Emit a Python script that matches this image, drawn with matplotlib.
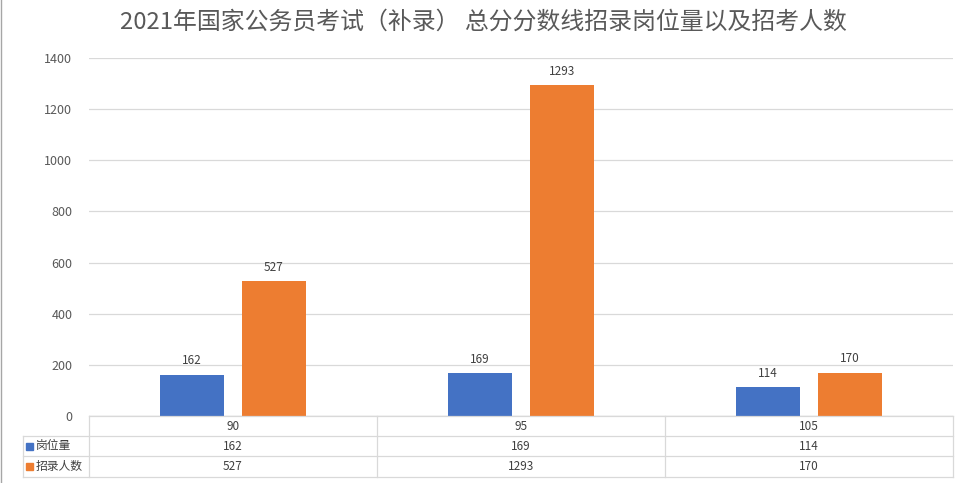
import matplotlib.pyplot as plt
from matplotlib.patches import Rectangle
from matplotlib.lines import Line2D

plt.rcParams['font.family'] = ['Noto Sans CJK SC', 'DejaVu Sans']

categories = ["90", "95", "105"]
series_names = ["岗位量", "招录人数"]
posts = [162, 169, 114]
applicants = [527, 1293, 170]
title = "2021年国家公务员考试（补录） 总分分数线招录岗位量以及招考人数"

BLUE = "#4472C4"
ORANGE = "#ED7D31"
GRID = "#d9d9d9"
TEXT = "#404040"

W, H = 968, 483
fig = plt.figure(figsize=(W / 100, H / 100), dpi=100)


def fx(px):
    return px / W


def fy(py):
    return 1 - py / H


# plot area in pixel coords
left, right, top, bottom = 89, 953, 58, 416
ax = fig.add_axes([fx(left), fy(bottom), fx(right - left), fy(top) - fy(bottom)])

x = list(range(len(categories)))
bw = 0.222
off = 0.142
b1 = ax.bar([i - off for i in x], posts, width=bw, color=BLUE, zorder=3)
b2 = ax.bar([i + off for i in x], applicants, width=bw, color=ORANGE, zorder=3)
for bars, vals in ((b1, posts), (b2, applicants)):
    for r, v in zip(bars, vals):
        ax.text(r.get_x() + r.get_width() / 2, v + 28, str(v), ha="center",
                va="bottom", fontsize=8.5, color=TEXT)

ax.set_xlim(-0.5, len(categories) - 0.5)
ax.set_ylim(0, 1400)
ax.set_yticks(range(0, 1401, 200))
ax.yaxis.grid(True, color=GRID, linewidth=0.9, zorder=0)
ax.tick_params(axis="y", length=0, labelsize=9, labelcolor="#595959", pad=12)
ax.set_xticks([])
for s in ax.spines.values():
    s.set_visible(False)
ax.axhline(0, color=GRID, linewidth=0.9, zorder=2)

# data table under the chart
rows = [416, 436, 456, 477]
col_edges = [left + (right - left) * i / len(categories) for i in range(len(categories) + 1)]
tbl_left = 23
lw = 0.9
lines = []
# horizontal lines
lines.append(((col_edges[0], rows[0]), (right, rows[0])))
for r in rows[1:]:
    lines.append(((tbl_left, r), (right, r)))
# vertical lines
lines.append(((tbl_left, rows[1]), (tbl_left, rows[3])))
for c in col_edges:
    lines.append(((c, rows[0]), (c, rows[3])))
for (x0, y0), (x1, y1) in lines:
    fig.add_artist(Line2D([fx(x0), fx(x1)], [fy(y0), fy(y1)], color=GRID, linewidth=lw))

for i, cat in enumerate(categories):
    cx = (col_edges[i] + col_edges[i + 1]) / 2
    fig.text(fx(cx), fy((rows[0] + rows[1]) / 2), cat, ha="center", va="center",
             fontsize=8.5, color=TEXT)
    fig.text(fx(cx), fy((rows[1] + rows[2]) / 2), str(posts[i]), ha="center",
             va="center", fontsize=8.5, color=TEXT)
    fig.text(fx(cx), fy((rows[2] + rows[3]) / 2), str(applicants[i]), ha="center",
             va="center", fontsize=8.5, color=TEXT)

for j, (name, col) in enumerate(zip(series_names, (BLUE, ORANGE))):
    yc = (rows[j + 1] + rows[j + 2]) / 2
    fig.add_artist(Rectangle((fx(26), fy(yc + 3.5)), fx(7), fy(yc - 3.5) - fy(yc + 3.5),
                             color=col))
    fig.text(fx(36), fy(yc), name, ha="left", va="center", fontsize=8.5, color=TEXT)

fig.text(fx(483), fy(22), title, ha="center", va="center", fontsize=17.2,
         color="#595959")

fig.add_artist(Line2D([fx(1), fx(1)], [0, 1], color="#a6a6a6", linewidth=1))

fig.savefig("out.png", dpi=100)
